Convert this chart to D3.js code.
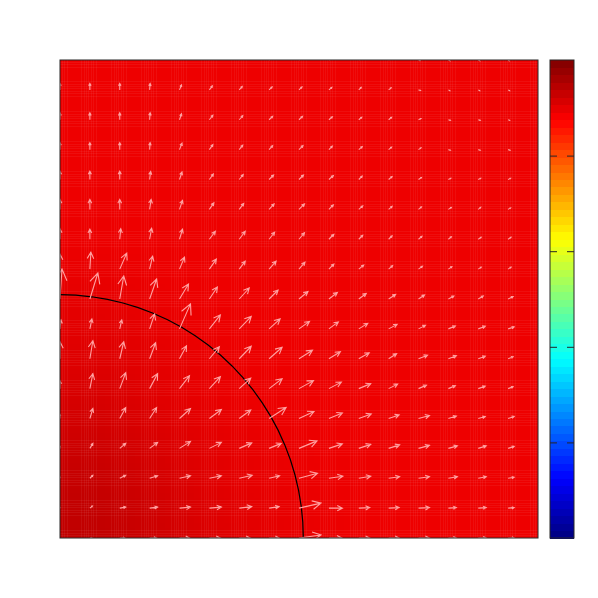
<!DOCTYPE html>
<html>
<head>
<meta charset="utf-8">
<script src="https://cdn.jsdelivr.net/npm/d3@7"></script>
<style>
  body { margin: 0; background: #fff; }
</style>
</head>
<body>
<script>
// Grid node positions (fraction of the domain), left->right and top->bottom
var gridX = [0, 0.0625, 0.125, 0.1875, 0.25, 0.3125, 0.375, 0.4375, 0.5, 0.5625, 0.625, 0.6875, 0.75, 0.8125, 0.875, 0.9375, 1];
var gridY = [1, 0.9375, 0.875, 0.8125, 0.75, 0.6875, 0.625, 0.5625, 0.5, 0.4375, 0.375, 0.3125, 0.25, 0.1875, 0.125, 0.0625, 0];

// Scalar field at the nodes (colour value, 0..1 on the jet scale), top row first
var heat = [
  [0.892, 0.892, 0.892, 0.892, 0.892, 0.892, 0.892, 0.892, 0.892, 0.892, 0.892, 0.892, 0.892, 0.892, 0.892, 0.892, 0.892],
  [0.892, 0.892, 0.892, 0.892, 0.892, 0.892, 0.892, 0.892, 0.892, 0.892, 0.892, 0.892, 0.892, 0.892, 0.892, 0.892, 0.892],
  [0.892, 0.892, 0.892, 0.892, 0.892, 0.892, 0.892, 0.892, 0.892, 0.892, 0.892, 0.892, 0.892, 0.892, 0.892, 0.892, 0.892],
  [0.892, 0.892, 0.892, 0.892, 0.892, 0.892, 0.892, 0.892, 0.892, 0.892, 0.892, 0.892, 0.892, 0.892, 0.892, 0.892, 0.892],
  [0.892, 0.892, 0.892, 0.892, 0.892, 0.892, 0.892, 0.892, 0.892, 0.892, 0.892, 0.892, 0.892, 0.892, 0.892, 0.892, 0.892],
  [0.892, 0.892, 0.892, 0.892, 0.892, 0.892, 0.892, 0.892, 0.892, 0.892, 0.892, 0.892, 0.892, 0.892, 0.892, 0.892, 0.892],
  [0.893, 0.893, 0.892, 0.892, 0.892, 0.892, 0.892, 0.892, 0.892, 0.892, 0.892, 0.892, 0.892, 0.892, 0.892, 0.892, 0.892],
  [0.896, 0.896, 0.895, 0.894, 0.892, 0.892, 0.892, 0.892, 0.892, 0.892, 0.892, 0.892, 0.892, 0.892, 0.892, 0.892, 0.892],
  [0.900, 0.900, 0.898, 0.896, 0.894, 0.892, 0.892, 0.892, 0.892, 0.892, 0.892, 0.892, 0.892, 0.892, 0.892, 0.892, 0.892],
  [0.903, 0.903, 0.902, 0.899, 0.896, 0.893, 0.892, 0.892, 0.892, 0.892, 0.892, 0.892, 0.892, 0.892, 0.892, 0.892, 0.892],
  [0.907, 0.907, 0.905, 0.902, 0.898, 0.895, 0.893, 0.892, 0.892, 0.892, 0.892, 0.892, 0.892, 0.892, 0.892, 0.892, 0.892],
  [0.913, 0.913, 0.910, 0.905, 0.900, 0.897, 0.894, 0.892, 0.892, 0.892, 0.892, 0.892, 0.892, 0.892, 0.892, 0.892, 0.892],
  [0.919, 0.919, 0.915, 0.910, 0.904, 0.900, 0.896, 0.894, 0.892, 0.892, 0.892, 0.892, 0.892, 0.892, 0.892, 0.892, 0.892],
  [0.925, 0.925, 0.921, 0.915, 0.908, 0.903, 0.899, 0.896, 0.894, 0.892, 0.892, 0.892, 0.892, 0.892, 0.892, 0.892, 0.892],
  [0.931, 0.931, 0.926, 0.919, 0.912, 0.905, 0.900, 0.897, 0.894, 0.893, 0.892, 0.892, 0.892, 0.892, 0.892, 0.892, 0.892],
  [0.935, 0.935, 0.930, 0.923, 0.915, 0.908, 0.903, 0.899, 0.896, 0.894, 0.892, 0.892, 0.892, 0.892, 0.892, 0.892, 0.892],
  [0.937, 0.937, 0.932, 0.925, 0.917, 0.910, 0.904, 0.900, 0.897, 0.894, 0.892, 0.892, 0.892, 0.892, 0.892, 0.892, 0.892]
];

// Vector components at the nodes, in units of 1/478 of the domain (u right, v up), top row first
var uRows = [
  [0, 0, 0, 0.5, 1.5, 2.5, 2.5, 2.5, 2.5, 2.5, 2, 2, 1.5, 1.5, 1.5, 1, 1],
  [0, 0, 0, 0.5, 2, 3, 3, 3, 3, 3, 2.5, 2.5, 2, 1.5, 1.5, 1.5, 1.5],
  [0, 0, 0, 0.5, 2, 3.5, 3.5, 3.5, 3.5, 3.5, 3, 3, 2.5, 2, 2, 1.5, 1.5],
  [0, 0, 0, 0.5, 2.5, 3.5, 3.5, 3.5, 4, 3.5, 3.5, 3, 2.5, 2, 2, 2, 2],
  [0, 0, 0, 1, 2.5, 4, 4, 4.5, 4.5, 4.5, 3.5, 3.5, 3, 2.5, 2.5, 2.5, 2.5],
  [0, 0, 0, 1.5, 3, 4.5, 4.5, 5, 5.5, 4.5, 4, 3.5, 3, 3, 2.5, 2.5, 2.5],
  [0, 0, 1, 2, 3, 6, 6, 5.5, 5.5, 5, 4, 3.5, 3.5, 3, 3, 3, 3],
  [0, 1, 7, 3, 5, 7, 6, 7, 6, 5, 5, 4, 4, 3.5, 3, 3, 3],
  [2, 8, 4, 7, 9, 8, 10, 9, 9, 8.5, 7.5, 7, 6, 5.5, 5, 5, 5],
  [1, 2, 2, 5, 11, 11, 12, 11, 10.5, 9.5, 9, 8.5, 7, 7, 7, 6, 6],
  [0, 3, 4, 6, 7, 10, 12, 13, 13.5, 11.5, 10.5, 8, 9, 8, 7, 5, 5],
  [0, 3, 6, 8, 10, 11, 11.5, 13, 14.5, 12.5, 12, 9, 8, 7, 7, 5, 5],
  [0, 3, 6, 7, 11, 12, 11.5, 17, 15, 13.5, 12.5, 10.5, 11, 8, 7, 6, 6],
  [0, 3, 6, 8, 11, 12, 12.5, 12, 18, 13.5, 12, 11, 11, 9, 8, 6, 6],
  [0, 3, 6, 8, 11, 12, 13, 10.5, 18.5, 14, 12, 11, 11, 9, 8, 6, 6],
  [0, 2.5, 6, 8, 11, 12, 12.5, 10, 22, 13.5, 11, 10.5, 11, 8, 8, 6, 6],
  [0, 2, 5, 7, 10, 11, 11, 10, 22, 13, 11, 10.5, 11, 8, 8, 6, 6]
];
var vRows = [
  [5, 5, 5, 5, 4, 3.5, 3, 2.5, 2.5, 2, 2, 1.5, -0.5, -0.8, -0.8, -0.8, -0.8],
  [6.5, 6.5, 6.5, 6.5, 5, 4, 3.5, 3, 3, 2.5, 2.5, 2, -0.6, -0.8, -0.8, -0.8, -0.8],
  [7, 7, 7, 7, 6, 4.5, 4, 3.5, 3.5, 3, 2.5, 2.5, 1.2, -0.6, -0.6, -0.6, -0.6],
  [7, 7, 7, 7, 6.5, 5, 4.5, 4, 4, 3.5, 3, 2.5, 1.8, -0.6, -0.6, -0.6, -0.6],
  [8.3, 8.3, 8.3, 8, 7.5, 5.5, 5, 4.5, 4.5, 4, 3.5, 3, 2, 1.2, 1.2, 1.2, 1.2],
  [10, 10, 10, 10, 9, 6.5, 6, 5.5, 5.5, 4.5, 3.5, 3, 2.5, 2, 2, 1.5, 1.5],
  [10.5, 10, 10.5, 11, 10, 8, 8, 7, 6.5, 5, 4, 3.5, 3, 2.5, 2, 2, 2],
  [15, 17, 16, 13, 12, 10, 8, 8, 7, 5, 4, 3.5, 3, 2.5, 2, 2, 2],
  [30, 26, 23, 20, 15, 12, 11, 9, 7.5, 6.5, 5.5, 4.5, 4, 3, 3, 2.5, 2.5],
  [9, 10, 9, 15, 25, 14, 12.5, 10, 7.5, 7, 5.5, 4.5, 3.5, 3, 2.7, 2, 2],
  [17, 18, 17, 16, 13, 12, 12.5, 11.5, 8.5, 7, 6, 5, 3.5, 3, 2.5, 2, 2],
  [8, 15, 16, 15, 13, 12, 10.5, 10, 8, 6.5, 5, 4.5, 3.5, 3, 2.5, 2, 2],
  [4, 10, 11, 11, 10, 9, 8.5, 11, 7, 5.5, 4.5, 3.5, 3, 2.5, 2, 2, 2],
  [2, 5, 5, 6, 7, 6, 5.5, 5, 7.5, 4.5, 4, 3.5, 3, 2.5, 2.5, 2, 2],
  [1, 3, 3, 2.5, 2.5, 2.5, 3, 2.5, 5, 2, 2, 1.5, 1.5, 1.5, 1.5, 1, 1],
  [0.5, 2, 1, 1, 1, 1, 1.5, 1.5, 5, 0, 0.5, 0.5, 0.5, 0.5, 0.5, 0.5, 0.5],
  [0, 0, 0, 0, 0, 0, 0, 0, 3, 0, 0, 0, 0, 0, 0, 0, 0]
];

// Interface circle centred at the origin
var circleRadius = 0.509;

// Colour bar ticks (no labels)
var colorTicks = [0.2, 0.4, 0.6, 0.8];
var colorLevels = 64;

var svgWidth = 598;
var svgHeight = 598;
var margin = { top: 60, right: 60, bottom: 60, left: 60 };
var width = 478;
var height = 478;

// matlab style jet colormap
function jet(t) {
  var c = function (v) { return Math.max(0, Math.min(1, v)); };
  var r = c(1.5 - Math.abs(4 * t - 3));
  var g = c(1.5 - Math.abs(4 * t - 2));
  var b = c(1.5 - Math.abs(4 * t - 1));
  return d3.rgb(r * 255, g * 255, b * 255);
}

var svg = d3.select("body")
  .append("svg")
  .attr("width", svgWidth)
  .attr("height", svgHeight);

var chartGroup = svg.append("g")
  .attr("transform", `translate(${margin.left}, ${margin.top})`);

var x = d3.scaleLinear().domain([0, 1]).range([0, width]);
var y = d3.scaleLinear().domain([0, 1]).range([height, 0]);
var vec = d3.scaleLinear().domain([0, 478]).range([0, 1]);

svg.append("defs").append("clipPath")
  .attr("id", "plotClip")
  .append("rect")
  .attr("width", width)
  .attr("height", height);

var plot = chartGroup.append("g").attr("clip-path", "url(#plotClip)");

// heat map: bilinear interpolation of the node values onto fine cells
var nFine = 96;
var fine = [];
for (var j = 0; j < nFine; j++) {
  for (var i = 0; i < nFine; i++) {
    var fx = (i + 0.5) / nFine, fy = 1 - (j + 0.5) / nFine;
    var gi = fx * 16, gj = (1 - fy) * 16;
    var i0 = Math.min(15, Math.floor(gi)), j0 = Math.min(15, Math.floor(gj));
    var tx = gi - i0, ty = gj - j0;
    var val = heat[j0][i0] * (1 - tx) * (1 - ty) + heat[j0][i0 + 1] * tx * (1 - ty)
      + heat[j0 + 1][i0] * (1 - tx) * ty + heat[j0 + 1][i0 + 1] * tx * ty;
    fine.push({ x0: i / nFine, y1: 1 - j / nFine, value: val });
  }
}

plot.append("g")
  .selectAll("rect")
  .data(fine)
  .enter().append("rect")
  .attr("x", d => x(d.x0))
  .attr("y", d => y(d.y1))
  .attr("width", width / nFine + 0.6)
  .attr("height", height / nFine + 0.6)
  .attr("fill", d => jet(d.value))
  .attr("shape-rendering", "crispEdges");

// faint mesh texture near the grid lines
var texOffsets = [-8, -5, -3, -1, 2, 4, 7];
var texture = plot.append("g")
  .attr("stroke", "#ffffff")
  .attr("stroke-opacity", 0.055)
  .attr("stroke-width", 1)
  .attr("shape-rendering", "crispEdges");
gridX.forEach(function (g) {
  texOffsets.forEach(function (o) {
    texture.append("line")
      .attr("x1", x(g) + o).attr("x2", x(g) + o)
      .attr("y1", 0).attr("y2", height);
  });
});
gridY.forEach(function (g) {
  texOffsets.forEach(function (o) {
    texture.append("line")
      .attr("y1", y(g) + o).attr("y2", y(g) + o)
      .attr("x1", 0).attr("x2", width);
  });
});

// interface circle
var arcPts = d3.range(0, 25).map(function (k) {
  var a = (k / 24) * Math.PI / 2;
  return [circleRadius * Math.cos(a), circleRadius * Math.sin(a)];
});
plot.append("path")
  .attr("d", d3.line().x(d => x(d[0])).y(d => y(d[1]))(arcPts))
  .attr("fill", "none")
  .attr("stroke", "#000")
  .attr("stroke-width", 1.2);

// quiver arrows
var arrows = [];
gridY.forEach(function (gy, r) {
  gridX.forEach(function (gx, c) {
    arrows.push({ x: gx, y: gy, u: vec(uRows[r][c]), v: vec(vRows[r][c]) });
  });
});

var alpha = 0.38, beta = 0.5;
plot.append("g")
  .selectAll("path")
  .data(arrows)
  .enter().append("path")
  .attr("d", function (d) {
    var tipX = d.x + d.u, tipY = d.y + d.v;
    var h1x = tipX - alpha * (d.u + beta * d.v), h1y = tipY - alpha * (d.v - beta * d.u);
    var h2x = tipX - alpha * (d.u - beta * d.v), h2y = tipY - alpha * (d.v + beta * d.u);
    return "M" + x(d.x) + "," + y(d.y) + "L" + x(tipX) + "," + y(tipY)
      + "M" + x(h1x) + "," + y(h1y) + "L" + x(tipX) + "," + y(tipY) + "L" + x(h2x) + "," + y(h2y);
  })
  .attr("fill", "none")
  .attr("stroke", "#ffa0a0")
  .attr("stroke-width", 1.1)
  .attr("stroke-linejoin", "miter");

// plot frame
chartGroup.append("rect")
  .attr("width", width)
  .attr("height", height)
  .attr("fill", "none")
  .attr("stroke", "#262626")
  .attr("stroke-width", 1);

// colour bar
var cbX = 490, cbW = 24;
var cbScale = d3.scaleLinear().domain([0, 1]).range([height, 0]);
var cbGroup = chartGroup.append("g").attr("transform", `translate(${cbX}, 0)`);
cbGroup.selectAll("rect")
  .data(d3.range(colorLevels))
  .enter().append("rect")
  .attr("x", 0)
  .attr("y", k => cbScale((k + 1) / colorLevels))
  .attr("width", cbW)
  .attr("height", height / colorLevels + 0.5)
  .attr("fill", k => jet((k + 0.5) / colorLevels))
  .attr("shape-rendering", "crispEdges");

var cbAxisL = d3.axisRight(cbScale).tickValues(colorTicks).tickSize(7).tickFormat("");
var cbAxisR = d3.axisLeft(cbScale).tickValues(colorTicks).tickSize(7).tickFormat("");
cbGroup.append("g").call(cbAxisL);
cbGroup.append("g").attr("transform", `translate(${cbW}, 0)`).call(cbAxisR);
cbGroup.selectAll(".domain").remove();
cbGroup.selectAll(".tick line").attr("stroke", "#262626");

cbGroup.append("rect")
  .attr("width", cbW)
  .attr("height", height)
  .attr("fill", "none")
  .attr("stroke", "#262626")
  .attr("stroke-width", 1);
</script>
</body>
</html>
